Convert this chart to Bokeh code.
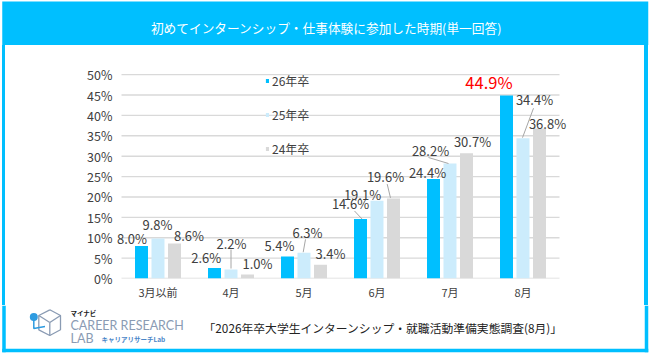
from bokeh.plotting import figure
from bokeh.layouts import column, row
from bokeh.models import (Range1d, FixedTicker, PrintfTickFormatter, Legend, LegendItem, ColumnDataSource)
from bokeh.embed import file_html
from bokeh.resources import INLINE
from bokeh.core.properties import value

# ---------------- data ----------------
months = ["3月以前", "4月", "5月", "6月", "7月", "8月"]
series_names = ["26年卒", "25年卒", "24年卒"]
grad26 = [8.0, 2.6, 5.4, 14.6, 24.4, 44.9]
grad25 = [9.8, 2.2, 6.3, 19.1, 28.2, 34.4]
grad24 = [8.6, 1.0, 3.4, 19.6, 30.7, 36.8]
y_ticks = [0, 5, 10, 15, 20, 25, 30, 35, 40, 45, 50]
title_text = "初めてインターンシップ・仕事体験に参加した時期(単一回答)"
source_text = "「2026年卒大学生インターンシップ・就職活動準備実態調査(8月)」"

# ---------------- style / layout ----------------
FONT = "Noto Sans CJK JP"
CYAN = "#00BFFF"
colors = ["#00BFFF", "#CCECFC", "#D9D9D9"]
TXT = "#404040"
W, H = 650, 354
TITLE_H = 45
FOOT_H = 49
CHART_H = H - TITLE_H - FOOT_H

# chart-figure canvas coordinates
GRID_L = 121.0              # left end of grid
CAT_PX = 73.0               # px per category
FL, FR = 114, 582
FT, FB = 66 - TITLE_H, 278 - TITLE_H
Y_MAX = 52.0
PX_PER_PCT = (FB - FT) / Y_MAX
N = len(months)
bar_off = [-0.226, 0.0, 0.226]
bar_w = 0.178

# label offsets (px, canvas y down) relative to each bar top
lab_dx = [[-9.5, -8.3, -8.0, -10.0, -6.0, -17.5],
          [-0.5, 0.5, 3.5, -14.5, -19.5, 11.5],
          [14.5, 10.0, 10.0, -8.0, 6.0, 8.0]]
lab_dy = [[-7.7, -10.4, -11.0, -15.4, -6.4, -13.8],
          [-14.0, -26.0, -20.3, -6.0, -13.0, -38.6],
          [-7.5, -11.0, -11.0, -22.5, -12.2, -4.5]]
# leader lines: (series, month, start dx, start dy, end dx, end dy) in px
leaders = [(1, 1, 0.0, -20.0, 0.0, -1.0),
           (1, 2, 1.5, -13.5, -0.8, -0.6),
           (0, 3, -6.0, -8.0, 1.5, 0.0),
           (2, 3, -6.3, -14.5, -3.0, -0.7),
           (1, 4, -21.5, -6.0, -1.5, 0.0),
           (1, 5, 10.5, -30.0, -0.5, -0.6)]


def blank(width, height, y_top, y_bottom, bg="white"):
    f = figure(width=width, height=height, x_range=Range1d(0, width), y_range=Range1d(y_bottom, y_top),
               output_backend="svg", toolbar_location=None, x_axis_location=None, y_axis_location=None,
               min_border=0, min_border_left=0, min_border_right=0, min_border_top=0, min_border_bottom=0,
               background_fill_color=bg, border_fill_color=bg, outline_line_color=None)
    f.xgrid.grid_line_color = None
    f.ygrid.grid_line_color = None
    return f


# ---------------- title band ----------------
t = blank(W, TITLE_H, 0, TITLE_H)
t.quad(left=[1.75], right=[647.75], top=[1], bottom=[TITLE_H], fill_color=CYAN, line_color=None)
t.text(x=[326], y=[26.5], text=[title_text], text_align="center", text_baseline="middle",
       text_color="white", text_font_size="12.7px", text_font=value(FONT))

# ---------------- chart ----------------
side_borders = ("linear-gradient(to right, #ffffff 0px, #ffffff 1.75px, #00BFFF 1.75px, #00BFFF 5.25px, "
                "#ffffff 5.25px, #ffffff 644.25px, #00BFFF 644.25px, #00BFFF 647.75px, #ffffff 647.75px)")
x_start = -(GRID_L - FL) / CAT_PX
x_end = x_start + (FR - FL) / CAT_PX
p = figure(width=W, height=CHART_H, x_range=Range1d(x_start, x_end), y_range=Range1d(0, Y_MAX),
           output_backend="svg", toolbar_location=None,
           min_border_left=FL, min_border_right=W - FR, min_border_top=FT, min_border_bottom=CHART_H - FB,
           background_fill_color="white", border_fill_alpha=0, outline_line_color=None,
           styles={"background": side_borders})
p.xgrid.grid_line_color = None
p.ygrid.grid_line_color = None

p.segment(x0=[0] * len(y_ticks), x1=[N] * len(y_ticks), y0=y_ticks, y1=y_ticks,
          line_color="#D9D9D9", line_width=1.4)

centers = [i + 0.5 for i in range(N)]
all_series = [grad26, grad25, grad24]
renderers = []
for s, vals in enumerate(all_series):
    src = ColumnDataSource(dict(x=[c + bar_off[s] for c in centers], top=vals))
    r = p.vbar(x="x", top="top", width=bar_w, source=src, fill_color=colors[s], line_color=None)
    renderers.append(r)

lx0, ly0, lx1, ly1 = [], [], [], []
for s, m, sdx, sdy, edx, edy in leaders:
    bx = centers[m] + bar_off[s]
    v = all_series[s][m]
    lx0.append(bx + sdx / CAT_PX); ly0.append(v - sdy / PX_PER_PCT)
    lx1.append(bx + edx / CAT_PX); ly1.append(v - edy / PX_PER_PCT)
p.segment(x0=lx0, y0=ly0, x1=lx1, y1=ly1, line_color="#A6A6A6", line_width=1)

lab = dict(x=[], y=[], text=[], dx=[], dy=[], color=[], size=[])
max26 = max(grad26)
for s, vals in enumerate(all_series):
    for m, v in enumerate(vals):
        lab["x"].append(centers[m] + bar_off[s]); lab["y"].append(v)
        lab["text"].append(f"{v:.1f}%")
        lab["dx"].append(lab_dx[s][m]); lab["dy"].append(lab_dy[s][m])
        hi = (s == 0 and v == max26)
        lab["color"].append("#FF0000" if hi else TXT)
        lab["size"].append("16.5px" if hi else "13px")
p.text(x="x", y="y", text="text", x_offset="dx", y_offset="dy", source=ColumnDataSource(lab),
       text_align="center", text_baseline="middle", text_color="color", text_font_size="size",
       text_font=value(FONT))

p.yaxis.ticker = FixedTicker(ticks=y_ticks)
p.yaxis.formatter = PrintfTickFormatter(format="%d%%")
p.yaxis.axis_line_color = None
p.yaxis.major_tick_line_color = None
p.yaxis.minor_tick_line_color = None
p.yaxis.major_tick_out = 0
p.yaxis.minor_tick_out = 0
p.yaxis.major_label_standoff = 2
p.yaxis.major_label_text_font_size = "12.5px"
p.yaxis.major_label_text_color = TXT
p.yaxis.major_label_text_font = FONT

p.xaxis.ticker = FixedTicker(ticks=centers)
p.xaxis.major_label_overrides = {c: m for c, m in zip(centers, months)}
p.xaxis.axis_line_color = None
p.xaxis.major_tick_line_color = None
p.xaxis.minor_tick_line_color = None
p.xaxis.major_tick_out = 0
p.xaxis.minor_tick_out = 0
p.xaxis.major_label_standoff = 5
p.xaxis.major_label_text_font_size = "11px"
p.xaxis.major_label_text_color = TXT
p.xaxis.major_label_text_font = FONT

legend = Legend(items=[LegendItem(label=n, renderers=[r]) for n, r in zip(series_names, renderers)],
                location=(265 - FL, 278 - 157), orientation="vertical",
                glyph_width=4, glyph_height=5, label_height=16, spacing=17, label_standoff=3,
                padding=0, margin=0, border_line_color=None, background_fill_alpha=0,
                label_text_font_size="12px", label_text_color=TXT, label_text_font=FONT)
p.add_layout(legend, "center")

# ---------------- footer ----------------
f = blank(W, FOOT_H, H - FOOT_H, H)
f.quad(left=[1.75, 644.25, 1.75], right=[5.25, 647.75, 647.75], top=[H - FOOT_H, H - FOOT_H, 348.25],
       bottom=[351.75, 351.75, 351.75], fill_color=CYAN, line_color=None)
LOGO_GRAY = "#8A9BB3"
LOGO_BLUE = "#2E9BE0"
hexx = [49.3, 60, 60, 49.3, 38.3, 38.3, 49.3]
hexy = [309.3, 315, 329.3, 335, 329.3, 315, 309.3]
f.line(hexx, hexy, line_color=LOGO_GRAY, line_width=1.3)
f.multi_line(xs=[[49.3, 38.3], [49.3, 60], [49.3, 49.3]], ys=[[322, 315], [322, 315], [322, 335]],
             line_color=LOGO_GRAY, line_width=1.3)
f.line([33.3, 33.3, 44.5], [317, 328, 326], line_color=LOGO_BLUE, line_width=1.5)
f.scatter([33.3], [316.5], marker="circle", size=8, fill_color=LOGO_BLUE, line_color=None)
f.text(x=[70], y=[312], text=["マイナビ"], text_align="left", text_baseline="middle",
       text_color="#222222", text_font_size="6.5px", text_font_style="bold", text_font=value(FONT))
f.text(x=[70, 70], y=[324.5, 338], text=["CAREER RESEARCH", "LAB"], text_align="left", text_baseline="middle",
       text_color=LOGO_GRAY, text_font_size="12.5px", text_font=value("Lato"))
f.text(x=[101], y=[338.5], text=["キャリアリサーチLab"], text_align="left", text_baseline="middle",
       text_color="#4A86C8", text_font_size="6.5px", text_font_style="bold", text_font=value(FONT))
f.text(x=[203], y=[327], text=[source_text], text_align="left", text_baseline="middle",
       text_color="#222222", text_font_size="11.8px", text_font=value(FONT))

layout = column(t, row(p, spacing=0), f, spacing=0)
open("out.html", "w").write(file_html(layout, INLINE))
